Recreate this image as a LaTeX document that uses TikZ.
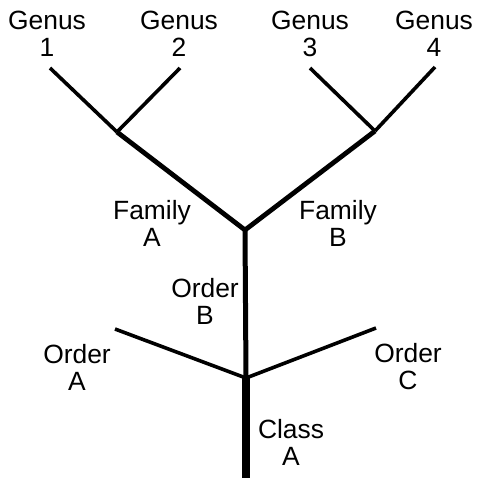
\documentclass[tikz,border=0pt]{standalone}
\usepackage{fontspec}
\setmainfont{Liberation Sans}
\usetikzlibrary{positioning}

\begin{document}
\begin{tikzpicture}[
  x=0.5pt, y=-0.5pt,
  taxon/.style={align=center, inner sep=0pt,
                font=\fontsize{13.2}{13.5}\selectfont},
  twig/.style={line width=#1, line join=round},
  twig/.default={1.8pt}
]
  \useasboundingbox (0,0) rectangle (480,478);

  % branch points
  \coordinate (g1)   at (50,68);
  \coordinate (g2)   at (180,68);
  \coordinate (g3)   at (310,68);
  \coordinate (g4)   at (435,67);
  \coordinate (famA) at (117,132);
  \coordinate (famB) at (375,131);
  \coordinate (ordB) at (245,230);
  \coordinate (ordA) at (115,329);
  \coordinate (ordC) at (376,328);
  \coordinate (cls)  at (246,378);
  \coordinate (root) at (246,478);

  % labels
  \node[taxon] (gen1) at (47,34)  {Genus\\1};
  \node[taxon] (gen2) at (179,34) {Genus\\2};
  \node[taxon] (gen3) at (310,34) {Genus\\3};
  \node[taxon] (gen4) at (434,34) {Genus\\4};
  \node[taxon] (fA) at (152,223) {Family\\A};
  \node[taxon] (fB) at (338,223) {Family\\B};
  \node[taxon] (oB) at (205,301) {Order\\B};
  \node[taxon] (oA) at (77,367)  {Order\\A};
  \node[taxon] (oC) at (408,367) {Order\\C};
  \node[taxon] (cA) at (291,442) {Class\\A};

  % tree
  \draw[twig] (g1) -- (famA);
  \draw[twig] (g2) -- (famA);
  \draw[twig] (g3) -- (famB);
  \draw[twig] (g4) -- (famB);
  \draw[twig=2.4pt] (famA) -- (ordB) -- (famB);
  \draw[twig=2.5pt] (ordB) -- (cls);
  \draw[twig] (ordA) -- (cls) -- (ordC);
  \draw[twig=4.2pt] (cls) -- (root);
\end{tikzpicture}
\end{document}
